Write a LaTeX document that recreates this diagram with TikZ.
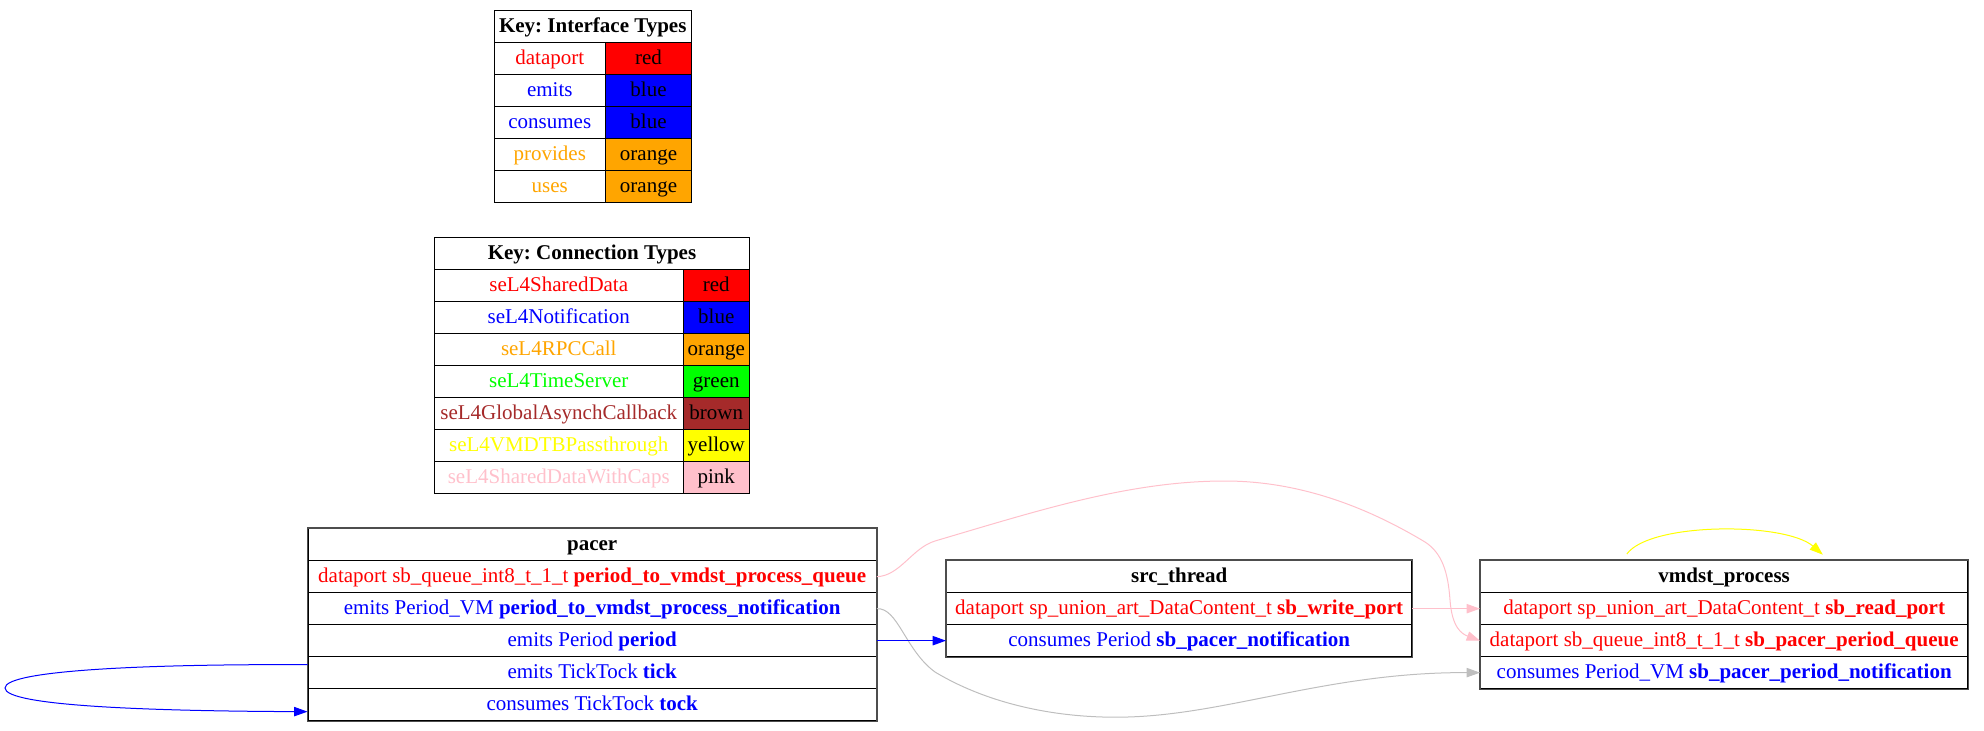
\documentclass[tikz,border=0pt]{standalone}
\usepackage{fontspec}
\setmainfont{Liberation Serif}
\usetikzlibrary{arrows.meta}
\frenchspacing
\definecolor{gvred}{HTML}{FF0000}
\definecolor{gvblue}{HTML}{0000FF}
\definecolor{gvorange}{HTML}{FFA500}
\definecolor{gvgreen}{HTML}{00FF00}
\definecolor{gvbrown}{HTML}{A52A2A}
\definecolor{gvyellow}{HTML}{FFFF00}
\definecolor{gvpink}{HTML}{FFC0CB}
\definecolor{gvgray}{HTML}{BEBEBE}
\definecolor{boxedge}{HTML}{4D4D4D}
\begin{document}
\begin{tikzpicture}[x=0.75pt,y=-0.75pt,
  every node/.style={font=\fontsize{15.75}{18}\selectfont, text height=12pt, text depth=3pt},
  lcell/.style={draw=black, line width=0.75pt, inner sep=0pt, anchor=north west, minimum height=24pt},
  cell/.style={draw=black, line width=1pt, inner sep=0pt, anchor=north west, minimum height=24pt},
  outerline/.style={draw=boxedge, line width=1.1pt},
  arr/.style={-{Triangle[length=10pt,width=7pt]}, line width=0.75pt},
]
\useasboundingbox (0,0) rectangle (1984,731);

% Legend: interface types
\node[lcell, minimum width=148.125pt] (ki) at (493.5,10) {\textbf{Key: Interface Types}};
\begin{scope}[every node/.append style={lcell}]
  \node[minimum width=83.625pt, text=gvred]    (ki1) at (493.5,42)  {dataport};
  \node[minimum width=64.5pt, fill=gvred]      (kc1) at (605,42)    {red};
  \node[minimum width=83.625pt, text=gvblue]   (ki2) at (493.5,74)  {emits};
  \node[minimum width=64.5pt, fill=gvblue]     (kc2) at (605,74)    {blue};
  \node[minimum width=83.625pt, text=gvblue]   (ki3) at (493.5,106) {consumes};
  \node[minimum width=64.5pt, fill=gvblue]     (kc3) at (605,106)   {blue};
  \node[minimum width=83.625pt, text=gvorange] (ki4) at (493.5,138) {provides};
  \node[minimum width=64.5pt, fill=gvorange]   (kc4) at (605,138)   {orange};
  \node[minimum width=83.625pt, text=gvorange] (ki5) at (493.5,170) {uses};
  \node[minimum width=64.5pt, fill=gvorange]   (kc5) at (605,170)   {orange};
\end{scope}

% Legend: connection types
\node[lcell, minimum width=236.25pt] (kt) at (434,237) {\textbf{Key: Connection Types}};
\begin{scope}[every node/.append style={lcell}]
  \node[minimum width=186.375pt, text=gvred]    (kt1) at (434,269) {seL4SharedData};
  \node[minimum width=49.875pt, fill=gvred]     (kd1) at (682.5,269) {red};
  \node[minimum width=186.375pt, text=gvblue]   (kt2) at (434,301) {seL4Notification};
  \node[minimum width=49.875pt, fill=gvblue]    (kd2) at (682.5,301) {blue};
  \node[minimum width=186.375pt, text=gvorange] (kt3) at (434,333) {seL4RPCCall};
  \node[minimum width=49.875pt, fill=gvorange]  (kd3) at (682.5,333) {orange};
  \node[minimum width=186.375pt, text=gvgreen]  (kt4) at (434,365) {seL4TimeServer};
  \node[minimum width=49.875pt, fill=gvgreen]   (kd4) at (682.5,365) {green};
  \node[minimum width=186.375pt, text=gvbrown]  (kt5) at (434,397) {seL4GlobalAsynchCallback};
  \node[minimum width=49.875pt, fill=gvbrown]   (kd5) at (682.5,397) {brown};
  \node[minimum width=186.375pt, text=gvyellow] (kt6) at (434,429) {seL4VMDTBPassthrough};
  \node[minimum width=49.875pt, fill=gvyellow]  (kd6) at (682.5,429) {yellow};
  \node[minimum width=186.375pt, text=gvpink]   (kt7) at (434,461) {seL4SharedDataWithCaps};
  \node[minimum width=49.875pt, fill=gvpink]    (kd7) at (682.5,461) {pink};
\end{scope}

% Component: pacer
\begin{scope}[every node/.append style={cell, minimum width=426pt}]
  \node (ph)    at (307.5,528) {\textbf{pacer}};
  \node[text=gvred]  (pq)    at (307.5,560) {dataport sb\_queue\_int8\_t\_1\_t \textbf{period\_to\_vmdst\_process\_queue}};
  \node[text=gvblue] (pvm)   at (307.5,592) {emits Period\_VM \textbf{period\_to\_vmdst\_process\_notification}};
  \node[text=gvblue] (pper)  at (307.5,624) {emits Period \textbf{period}};
  \node[text=gvblue] (ptick) at (307.5,656) {emits TickTock \textbf{tick}};
  \node[text=gvblue] (ptock) at (307.5,688) {consumes TickTock \textbf{tock}};
\end{scope}
\draw[outerline] (ph.north west) rectangle (ptock.south east);

% Component: src_thread
\begin{scope}[every node/.append style={cell, minimum width=348.75pt}]
  \node (sh) at (946,560) {\textbf{src\_thread}};
  \node[text=gvred]  (sw) at (946,592) {dataport sp\_union\_art\_DataContent\_t \textbf{sb\_write\_port}};
  \node[text=gvblue] (sc) at (946,624) {consumes Period \textbf{sb\_pacer\_notification}};
\end{scope}
\draw[outerline] (sh.north west) rectangle (sc.south east);

% Component: vmdst_process
\begin{scope}[every node/.append style={cell, minimum width=365.25pt}]
  \node (vh) at (1480,560) {\textbf{vmdst\_process}};
  \node[text=gvred]  (vr)     at (1480,592) {dataport sp\_union\_art\_DataContent\_t \textbf{sb\_read\_port}};
  \node[text=gvred]  (vqueue) at (1480,624) {dataport sb\_queue\_int8\_t\_1\_t \textbf{sb\_pacer\_period\_queue}};
  \node[text=gvblue] (vcons)  at (1480,656) {consumes Period\_VM \textbf{sb\_pacer\_period\_notification}};
\end{scope}
\draw[outerline] (vh.north west) rectangle (vcons.south east);

% Connections
\draw[arr, gvpink] (pq.east) .. controls (900,576) and (912,548) .. (935,541)
  .. controls (1040,510) and (1130,481) .. (1225,481)
  .. controls (1310,481) and (1380,515) .. (1425,542)
  .. controls (1442,553) and (1448,572) .. (1450,600)
  .. controls (1452,628) and (1462,634) .. (vqueue.west);
\draw[arr, gvgray] (pvm.east) .. controls (898,607.5) and (905,650) .. (935,672)
  .. controls (990,705) and (1060,719) .. (1128,717)
  .. controls (1230,714) and (1330,672) .. (vcons.west);
\draw[arr, gvblue] (pper.east) -- (sc.west);
\draw[arr, gvpink] (sw.east) -- (vr.west);
\draw[arr, gvyellow] ([xshift=-73pt,yshift=4.5pt]vh.north) .. controls (1650,522) and (1785,522) .. ([xshift=74pt,yshift=4pt]vh.north);
\draw[arr, gvblue] ([yshift=6pt]ptick.west) .. controls (150,664) and (5,670) .. (5,688)
  .. controls (5,706) and (150,711) .. ([yshift=-5.25pt]ptock.west);
\end{tikzpicture}
\end{document}
